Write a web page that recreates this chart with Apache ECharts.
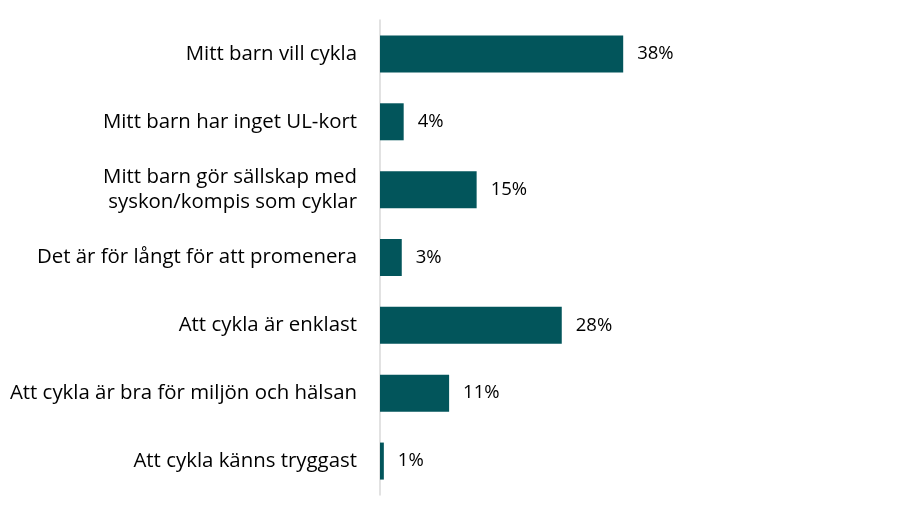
<!DOCTYPE html>
<html>
<head>
<meta charset="utf-8">
<script src="https://cdn.jsdelivr.net/npm/echarts@6/dist/echarts.min.js"></script>
<style>
    html, body { margin: 0; padding: 0; background: #fff; }
    #chart { width: 900px; height: 510px; }
</style>
</head>
<body>
<div id="chart"></div>
<script>
// kategorier och andelar (%)
var categories = [
    'Mitt barn vill cykla',
    'Mitt barn har inget UL-kort',
    'Mitt barn gör sällskap med\nsyskon/kompis som cyklar',
    'Det är för långt för att promenera',
    'Att cykla är enklast',
    'Att cykla är bra för miljön och hälsan',
    'Att cykla känns tryggast'
];
var values = [38.0, 3.7, 15.1, 3.4, 28.4, 10.8, 0.6];

window.onload = function () {
    var myChart = echarts.init(document.getElementById('chart'));
    var option = {
        animation: false,
        grid: {
            left: 380,
            right: 136,
            top: 20,
            bottom: 15
        },
        xAxis: {
            type: 'value',
            min: 0,
            max: 60,
            show: false
        },
        yAxis: {
            type: 'category',
            inverse: true,
            data: categories,
            axisLine: { show: true, lineStyle: { color: '#d9d9d9', width: 1.5 } },
            axisTick: { show: false },
            axisLabel: {
                margin: 23,
                color: '#000',
                fontFamily: 'Open Sans',
                fontSize: 20.4,
                lineHeight: 25,
                align: 'right'
            }
        },
        series: [{
            type: 'bar',
            data: values,
            barWidth: 37,
            itemStyle: { color: '#02555b' },
            label: {
                show: true,
                position: 'right',
                distance: 14,
                color: '#000',
                fontFamily: 'Open Sans',
                fontSize: 18.5,
                formatter: function (p) { return Math.round(p.value) + '%'; }
            }
        }]
    };
    myChart.setOption(option);
};
</script>
</body>
</html>
